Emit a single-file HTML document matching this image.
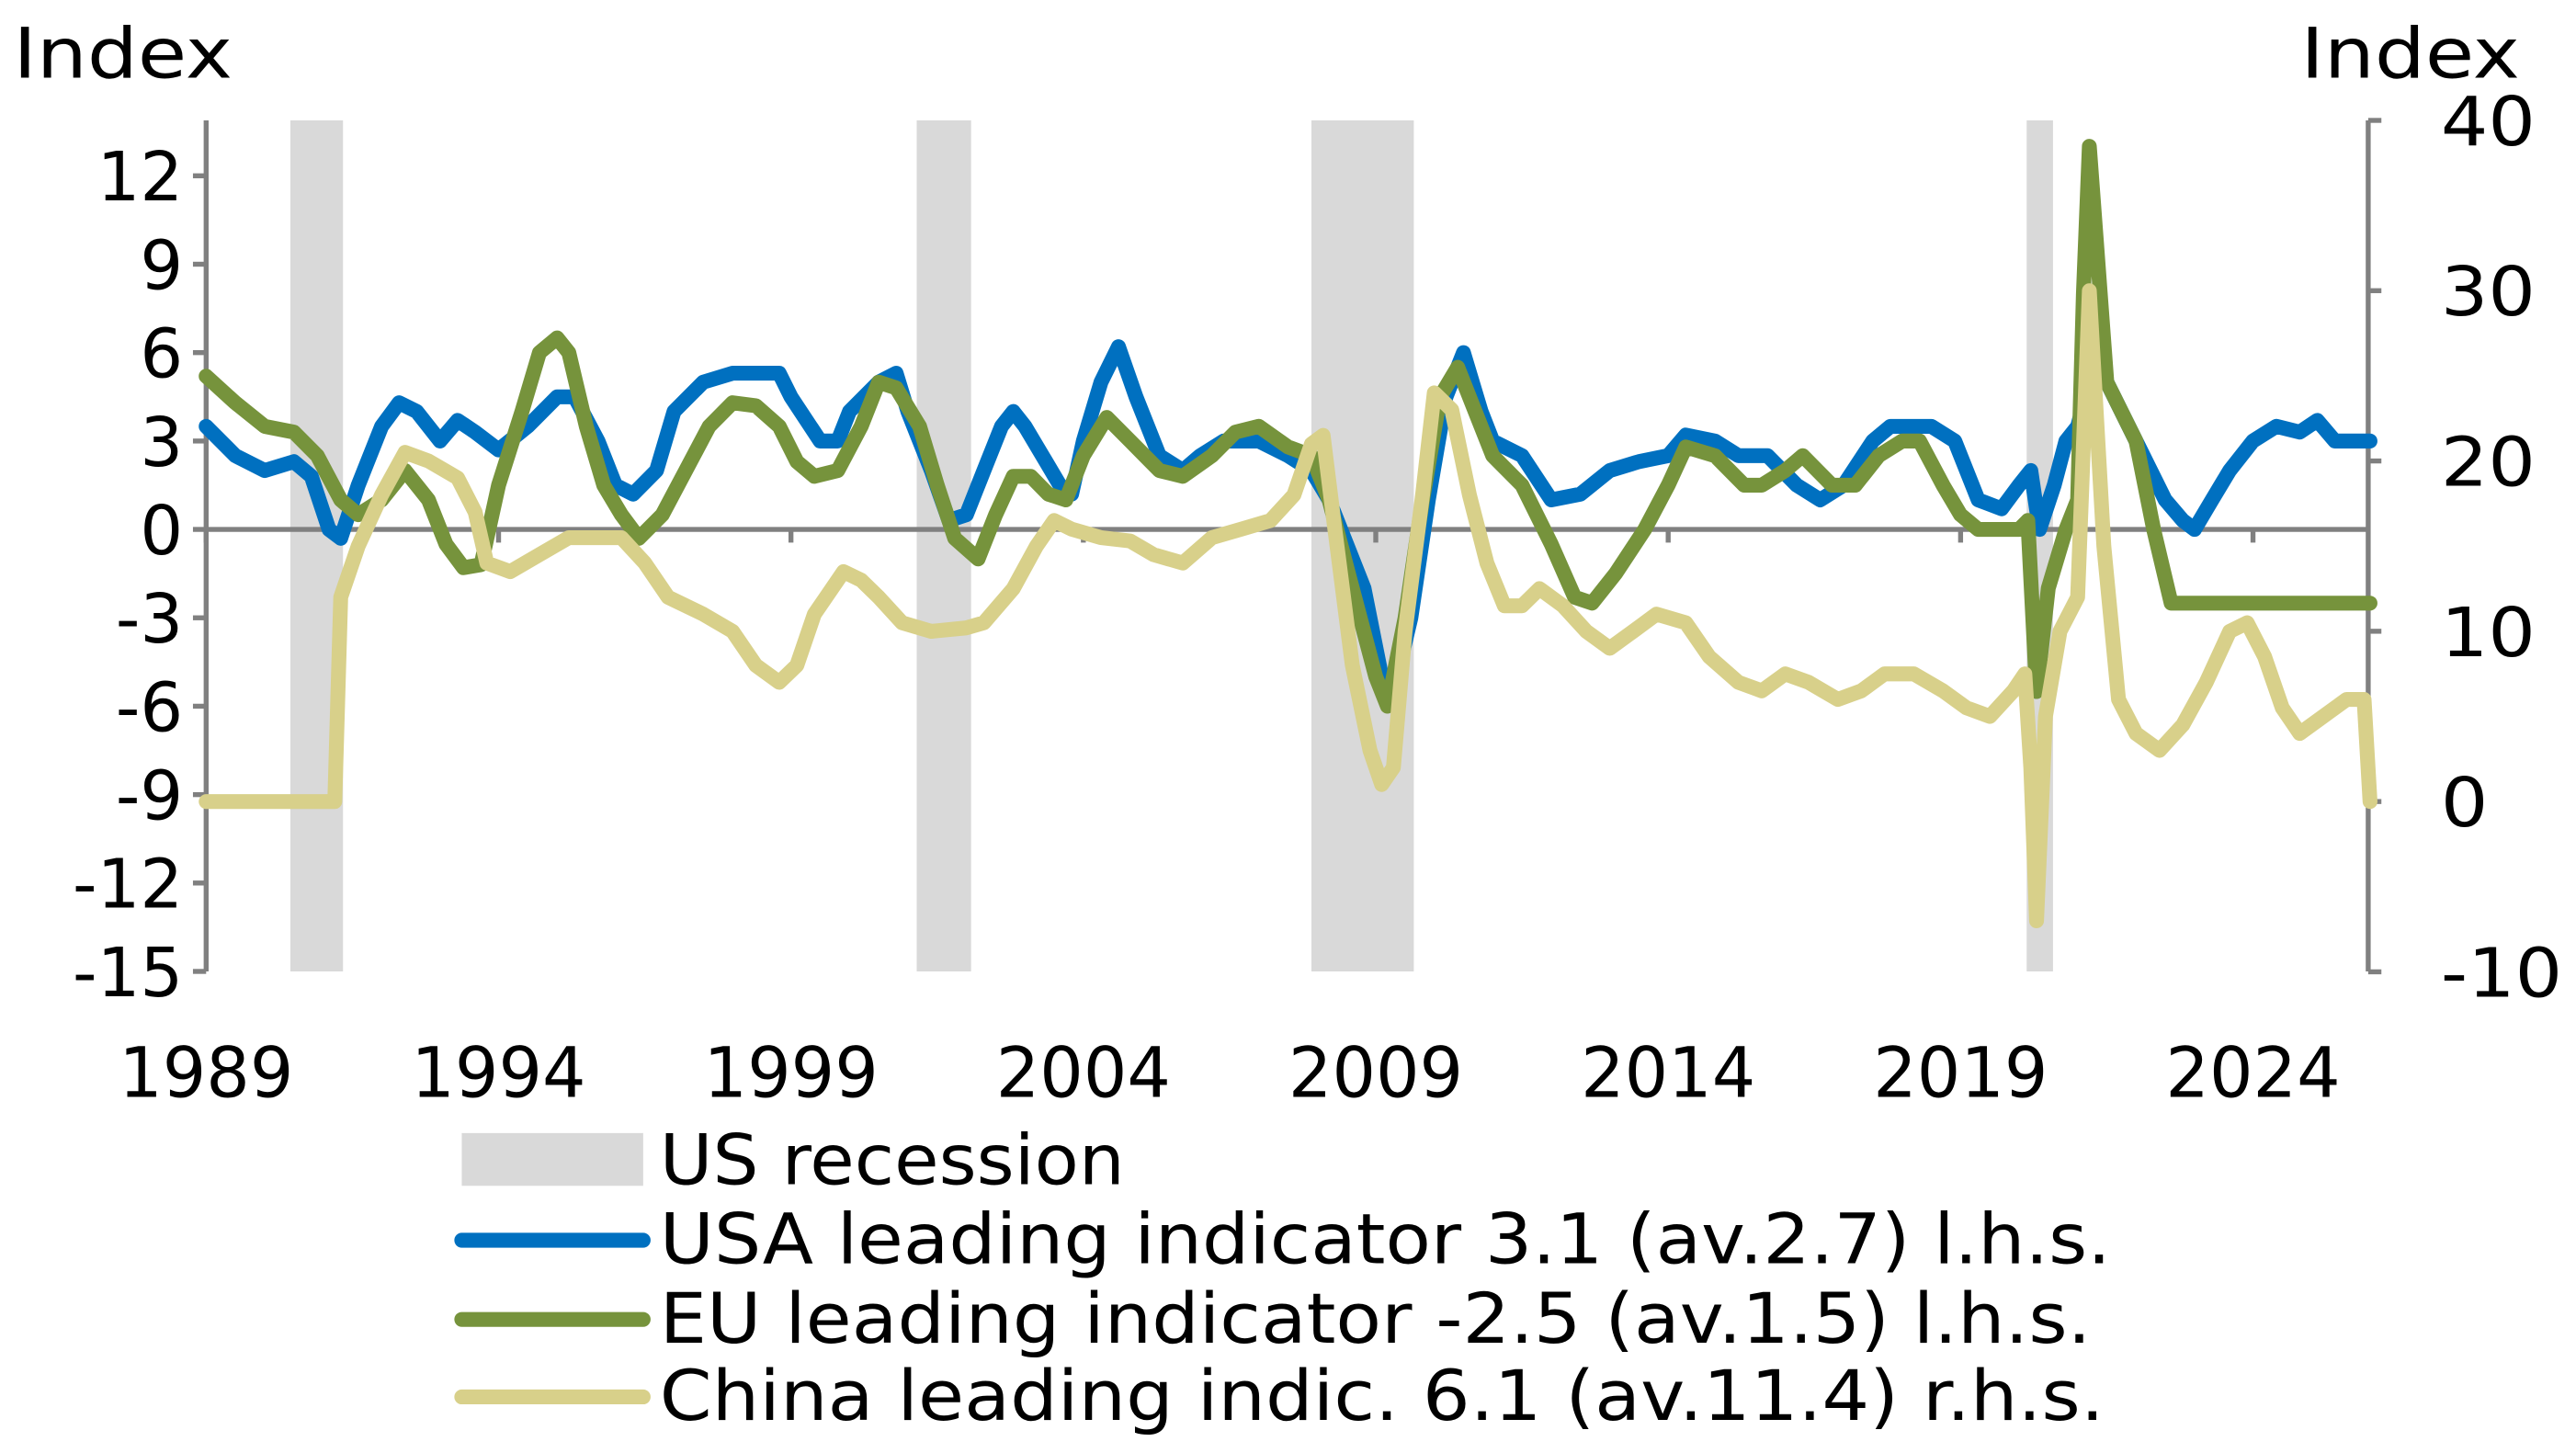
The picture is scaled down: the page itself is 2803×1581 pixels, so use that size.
<!DOCTYPE html>
<html><head><meta charset="utf-8"><style>
html,body{margin:0;padding:0;background:#fff;overflow:hidden}
svg{display:block}
text{font-family:"DejaVu Sans","Liberation Sans",sans-serif;fill:#000}
</style></head><body>
<svg id="chart" width="2803" height="1581" viewBox="0 0 1562 881" preserveAspectRatio="none" xmlns="http://www.w3.org/2000/svg">
<g id="rec"></g>
<g id="axes"></g>
<g id="series"></g>
<text x="8" y="47" font-size="42" textLength="133" lengthAdjust="spacingAndGlyphs">Index</text>
<text x="1395" y="47" font-size="42" textLength="133" lengthAdjust="spacingAndGlyphs">Index</text>
<g>
<rect x="280" y="687" width="110" height="32" fill="#d9d9d9"/>
<text x="400" y="718" font-size="42" textLength="282" lengthAdjust="spacingAndGlyphs">US recession</text>
<line x1="280" y1="752" x2="390" y2="752" stroke="#0070c0" stroke-width="9" stroke-linecap="round"/>
<text x="400" y="766" font-size="42" textLength="880" lengthAdjust="spacingAndGlyphs">USA leading indicator 3.1 (av.2.7) l.h.s.</text>
<line x1="280" y1="800" x2="390" y2="800" stroke="#76933c" stroke-width="9" stroke-linecap="round"/>
<text x="400" y="814" font-size="42" textLength="868" lengthAdjust="spacingAndGlyphs">EU leading indicator -2.5 (av.1.5) l.h.s.</text>
<line x1="280" y1="847" x2="390" y2="847" stroke="#d8d08a" stroke-width="9" stroke-linecap="round"/>
<text x="400" y="861" font-size="42" textLength="876" lengthAdjust="spacingAndGlyphs">China leading indic. 6.1 (av.11.4) r.h.s.</text>
</g>
</svg>
<script>
const leftTicks=[12,9,6,3,0,-3,-6,-9,-12,-15];
const rightTicks=[40,30,20,10,0,-10];
const yearTicks=[1989,1994,1999,2004,2009,2014,2019,2024];
const recessions=[[1990.44,1991.34],[2001.15,2002.08],[2007.9,2009.65],[2020.13,2020.58]];
const usaYears=[1989,1989.5,1990,1990.5,1990.8,1991.1,1991.3,1991.6,1992,1992.3,1992.6,1993,1993.3,1993.6,1994,1994.5,1995,1995.3,1995.7,1996,1996.3,1996.7,1997,1997.5,1998,1998.8,1999,1999.5,1999.8,2000,2000.5,2000.8,2001,2001.4,2001.7,2002,2002.3,2002.6,2002.8,2003,2003.3,2003.6,2003.8,2004,2004.3,2004.6,2004.9,2005.3,2005.7,2006,2006.4,2007,2007.5,2007.9,2008.2,2008.5,2008.8,2009.1,2009.3,2009.6,2009.9,2010.2,2010.5,2010.8,2011,2011.5,2012,2012.5,2013,2013.5,2014,2014.3,2014.8,2015.2,2015.7,2016.2,2016.6,2017,2017.5,2017.8,2018.5,2018.9,2019.3,2019.7,2020,2020.2,2020.35,2020.6,2020.8,2021,2021.2,2021.5,2022,2022.5,2022.8,2023,2023.3,2023.6,2024,2024.4,2024.8,2025.1,2025.4,2026];
const usaValues=[3.5,2.5,2,2.3,1.8,0,-0.3,1.5,3.5,4.3,4,3,3.7,3.3,2.7,3.5,4.5,4.5,3,1.5,1.2,2,4,5,5.3,5.3,4.5,3,3,4,5,5.3,4,2,0.3,0.5,2,3.5,4,3.5,2.5,1.5,1.2,3,5,6.2,4.5,2.5,2,2.5,3,3,2.5,2,1,-0.5,-2,-5,-5.5,-3,1,4.5,6,4,3,2.5,1,1.2,2,2.3,2.5,3.2,3,2.5,2.5,1.5,1,1.5,3,3.5,3.5,3,1,0.7,1.5,2,0,1.5,3,3.5,5,5,3,1,0.3,0,1,2,3,3.5,3.3,3.7,3,3];
const euYears=[1989,1989.5,1990,1990.5,1990.9,1991.3,1991.6,1992,1992.4,1992.8,1993.1,1993.4,1993.7,1994,1994.4,1994.7,1995,1995.2,1995.5,1995.8,1996.1,1996.4,1996.8,1997.2,1997.6,1998,1998.4,1998.8,1999.1,1999.4,1999.8,2000.2,2000.5,2000.8,2001.2,2001.5,2001.8,2002.2,2002.5,2002.8,2003.1,2003.4,2003.7,2004,2004.4,2004.8,2005.3,2005.7,2006.2,2006.6,2007,2007.5,2007.9,2008.2,2008.6,2009,2009.2,2009.5,2009.8,2010.1,2010.4,2010.7,2011,2011.5,2012,2012.4,2012.7,2013.1,2013.6,2014,2014.3,2014.8,2015.3,2015.6,2016,2016.3,2016.8,2017.2,2017.6,2018,2018.3,2018.7,2019,2019.3,2020,2020.15,2020.3,2020.5,2020.8,2021,2021.1,2021.2,2021.35,2021.5,2022,2022.3,2022.6,2026];
const euValues=[5.2,4.3,3.5,3.3,2.5,1,0.5,1,2,1,-0.5,-1.3,-1.2,1.5,4,6,6.5,6,3.5,1.5,0.5,-0.3,0.5,2,3.5,4.3,4.2,3.5,2.3,1.8,2,3.5,5,4.8,3.5,1.5,-0.3,-1,0.5,1.8,1.8,1.2,1,2.5,3.8,3,2,1.8,2.5,3.3,3.5,2.8,2.5,1,-2,-5,-6,-3,1,4.5,5.5,4,2.5,1.5,-0.5,-2.3,-2.5,-1.5,0,1.5,2.8,2.5,1.5,1.5,2,2.5,1.5,1.5,2.5,3,3,1.5,0.5,0,0,0.3,-5.5,-2,0,1,8,13,9,5,3,0,-2.5,-2.5];
const chinaYears=[1989,1991.2,1991.3,1991.6,1992,1992.4,1992.8,1993.3,1993.6,1993.8,1994.2,1994.7,1995.2,1995.7,1996.1,1996.5,1996.9,1997.5,1998,1998.4,1998.8,1999.1,1999.4,1999.9,2000.2,2000.5,2000.9,2001.4,2002,2002.3,2002.8,2003.2,2003.5,2003.8,2004.3,2004.8,2005.2,2005.7,2006.2,2006.7,2007.2,2007.6,2007.9,2008.1,2008.3,2008.6,2008.9,2009.1,2009.3,2009.5,2009.8,2010,2010.3,2010.6,2010.9,2011.2,2011.5,2011.8,2012.2,2012.6,2013,2013.4,2013.8,2014.3,2014.7,2015.2,2015.6,2016,2016.4,2016.9,2017.3,2017.7,2018.2,2018.7,2019.1,2019.5,2019.9,2020.1,2020.2,2020.3,2020.45,2020.7,2021,2021.2,2021.45,2021.7,2022,2022.4,2022.8,2023.2,2023.6,2023.9,2024.2,2024.5,2024.8,2025.2,2025.6,2025.9,2026];
const chinaValues=[0,0,12,15,18,20.5,20,19,17,14,13.5,14.5,15.5,15.5,15.5,14,12,11,10,8,7,8,11,13.5,13,12,10.5,10,10.2,10.5,12.5,15,16.5,16,15.5,15.3,14.5,14,15.5,16,16.5,18,21,21.5,16,8,3,1,2,10,18,24,23,18,14,11.5,11.5,12.5,11.5,10,9,10,11,10.5,8.5,7,6.5,7.5,7,6,6.5,7.5,7.5,6.5,5.5,5,6.5,7.5,2,-7,5,10,12,30,15,6,4,3,4.5,7,10,10.5,8.5,5.5,4,5,6,6,0];

const NS="http://www.w3.org/2000/svg";
const X0=125,X1=1436;
const xs=y=>X0+(y-1989)*(X1-X0)/(2025.97-1989);
const yl=v=>321-v*(589-321)/15;
const yr=v=>486-v*(486-73)/40;
function mk(tag,attrs,parent){const e=document.createElementNS(NS,tag);for(const k in attrs)e.setAttribute(k,attrs[k]);parent.appendChild(e);return e;}
const rec=document.getElementById('rec'),axes=document.getElementById('axes'),ser=document.getElementById('series');
recessions.forEach(r=>{
  const e=mk('rect',{x:xs(r[0]),y:73,width:xs(r[1])-xs(r[0]),height:516,fill:'#d9d9d9'},rec);
  
  
});
let e=mk('line',{x1:X0,y1:73,x2:X0,y2:589,stroke:'#808080','stroke-width':3},axes);


e=mk('line',{x1:X1,y1:73,x2:X1,y2:589,stroke:'#808080','stroke-width':3},axes);


function widen(tx){const w=tx.getComputedTextLength();tx.setAttribute('textLength',(w*1.1).toFixed(1));tx.setAttribute('lengthAdjust','spacingAndGlyphs');}
leftTicks.forEach(t=>{
  mk('line',{x1:X0-8,y1:yl(t),x2:X0,y2:yl(t),stroke:'#808080','stroke-width':3},axes);
  const tx=mk('text',{x:X0-14,y:yl(t)+15,'font-size':41,'text-anchor':'end'},axes);
  tx.textContent=t;
  
  
});
rightTicks.forEach(t=>{
  mk('line',{x1:X1,y1:yr(t),x2:X1+8,y2:yr(t),stroke:'#808080','stroke-width':3},axes);
  const tx=mk('text',{x:X1+44,y:yr(t)+15,'font-size':41},axes);
  tx.textContent=t;
  
  
  widen(tx);
});
e=mk('line',{x1:X0,y1:yl(0),x2:X1,y2:yl(0),stroke:'#808080','stroke-width':3},axes);


yearTicks.forEach(t=>{
  mk('line',{x1:xs(t),y1:yl(0),x2:xs(t),y2:yl(0)+8,stroke:'#808080','stroke-width':3},axes);
  const tx=mk('text',{x:xs(t)-53,y:665,'font-size':42},axes);
  tx.textContent=t;
  tx.setAttribute('textLength','106');
  tx.setAttribute('lengthAdjust','spacingAndGlyphs');
  
  
});
function line(xsArr,vals,yf,color,name){
  const d=xsArr.map((y,i)=>(i?'L':'M')+xs(y).toFixed(1)+','+yf(vals[i]).toFixed(1)).join('');
  const p=mk('path',{d:d,fill:'none',stroke:color,'stroke-width':9,'stroke-linejoin':'round','stroke-linecap':'round'},ser);
  
  
}
line(usaYears,usaValues,yl,'#0070c0','usa-line');
line(euYears,euValues,yl,'#76933c','eu-line');
line(chinaYears,chinaValues,yr,'#d8d08a','china-line');
</script>
</body></html>
